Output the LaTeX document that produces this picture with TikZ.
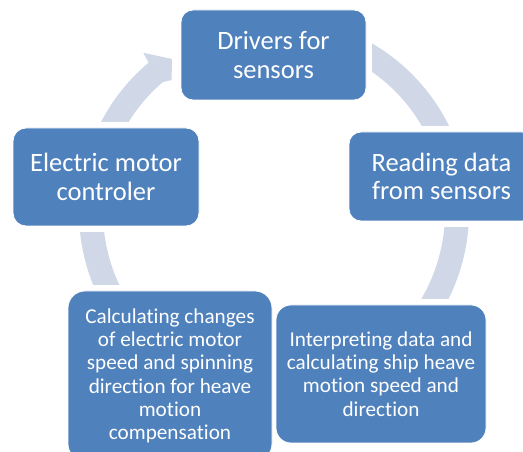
\documentclass[tikz,border=0pt]{standalone}
\usepackage{fontspec}
\setmainfont{Carlito}[Ligatures=NoCommon]
\definecolor{boxblue}{HTML}{4F81BD}
\definecolor{ringc}{HTML}{D0D8E8}
\pgfdeclarelayer{ringlayer}
\pgfdeclarelayer{halolayer}
\pgfsetlayers{ringlayer,halolayer,main}
\tikzset{
  box/.style={rounded corners=#1, fill=boxblue, draw=white, line width=0.8pt,
    text=white, align=center, inner sep=0pt},
  bigtext/.style={font=\fontsize{26.5}{28.5}\selectfont},
  smalltext/.style={font=\fontsize{21.2}{23.3}\selectfont},
  ringline/.style={draw=ringc, line width=24pt},
  halo/.style={fill=white, rounded corners=6pt}
}
\begin{document}
\begin{tikzpicture}[x=1pt,y=1pt]
\useasboundingbox (0,0) rectangle (523,452);
\coordinate (c) at (274,240);

\node[box=12pt, bigtext, minimum width=185pt, minimum height=90pt] (drv) at (273.5,397) {Drivers for\\sensors};
\node[box=13pt, bigtext, minimum width=186pt, minimum height=98pt] (emc) at (106,275) {Electric motor\\controler};
\node[box=12pt, bigtext, minimum width=185pt, minimum height=89pt] (rds) at (441.5,275.5) {Reading data\\from sensors};
\node[box=15pt, smalltext, minimum width=210pt, minimum height=138pt] (int) at (381,78) {Interpreting data and\\calculating ship heave\\motion speed and\\direction};
\node[box=17pt, smalltext, minimum width=204pt, minimum height=170pt] (cal) at (170,76) {Calculating changes\\of electric motor\\speed and spinning\\direction for heave\\motion\\compensation};

\begin{pgfonlayer}{halolayer}
\foreach \n in {drv,emc,rds,cal,int}
  \fill[halo] ([shift={(-5.5pt,-5.5pt)}]\n.south west) rectangle ([shift={(5.5pt,5.5pt)}]\n.north east);
\end{pgfonlayer}

\begin{pgfonlayer}{ringlayer}
% Drivers -> Reading
\draw[ringline] ([shift={(105:183pt)}]c) arc[start angle=105, end angle=20, radius=183pt];
% Reading -> Interpreting
\draw[ringline] ([shift={(5:183pt)}]c) arc[start angle=5, end angle=-35, radius=183pt];
% Calculating -> Electric
\draw[ringline] ([shift={(210:183pt)}]c) arc[start angle=210, end angle=170, radius=183pt];
% Electric -> Drivers (with arrowhead)
\fill[ringc, shift={(c)}] (155:171pt) arc[start angle=155, end angle=130.6, radius=171pt]
  -- (127.8:167pt) -- (123.7:184pt) -- (129.4:206pt) -- (130:195pt)
  arc[start angle=130, end angle=155, radius=195pt] -- cycle;
\end{pgfonlayer}
\end{tikzpicture}
\end{document}
